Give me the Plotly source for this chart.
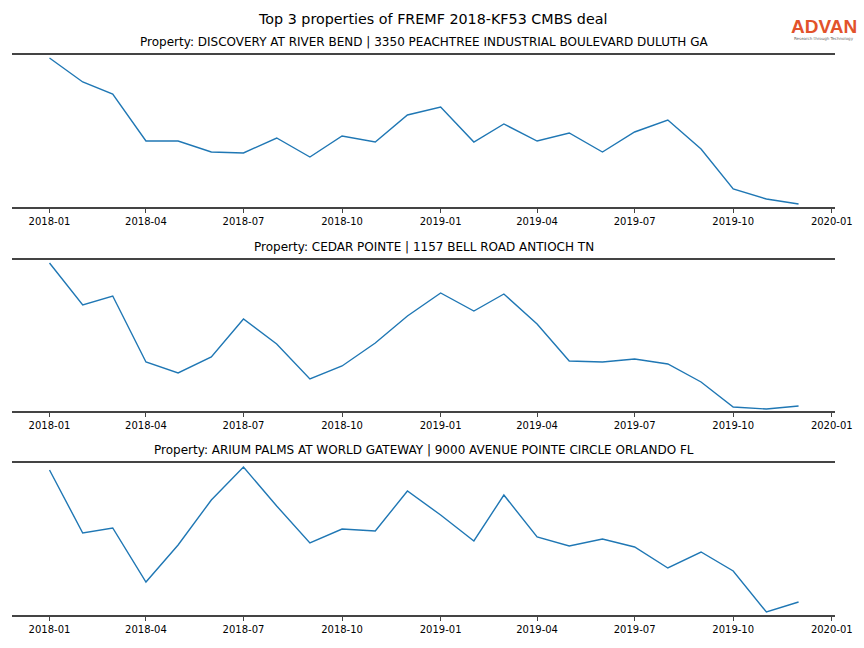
import pandas as pd
import plotly.graph_objects as go

months = pd.date_range("2018-01-01", "2019-12-01", freq="MS")

titles = [
    "Property: DISCOVERY AT RIVER BEND | 3350 PEACHTREE INDUSTRIAL BOULEVARD DULUTH GA",
    "Property: CEDAR POINTE | 1157 BELL ROAD ANTIOCH TN",
    "Property: ARIUM PALMS AT WORLD GATEWAY | 9000 AVENUE POINTE CIRCLE ORLANDO FL",
]

# relative activity index (no y-axis shown)
discovery = [149, 125, 113, 66, 66, 55, 54, 69, 50, 71, 65, 92, 100, 65, 83, 66, 74, 55, 75, 87, 58, 18, 8, 3]
cedar = [148, 106, 115, 49, 38, 54, 92, 67, 32, 45, 68, 95, 118, 100, 117, 87, 50, 49, 52, 47, 29, 4, 2, 5]
arium = [145, 82, 87, 33, 70, 115, 148, 109, 72, 86, 84, 124, 100, 74, 120, 78, 69, 76, 68, 47, 63, 44, 3, 13]

series = [discovery, cedar, arium]
ranges = [[0, 152], [0, 151], [0, 152]]

W, H = 864, 648
ML, MR = 12, 29
panels_px = [(55, 207), (260, 411), (463, 615)]

def fy(px):
    return 1 - px / H

def fx(px):
    return (px - ML) / (W - ML - MR)

fig = go.Figure()
layout = dict(
    width=W, height=H,
    margin=dict(l=ML, r=MR, t=0, b=0),
    paper_bgcolor="white", plot_bgcolor="white",
    showlegend=False,
    font=dict(family="DejaVu Sans", color="black"),
)
annotations = []
for i, (vals, (top, bot)) in enumerate(zip(series, panels_px)):
    n = i + 1
    xa = "x" if n == 1 else f"x{n}"
    ya = "y" if n == 1 else f"y{n}"
    fig.add_trace(go.Scatter(x=months, y=vals, mode="lines",
                             line=dict(color="#1f77b4", width=1.4),
                             xaxis=xa, yaxis=ya))
    xkey = "xaxis" if n == 1 else f"xaxis{n}"
    ykey = "yaxis" if n == 1 else f"yaxis{n}"
    layout[xkey] = dict(
        domain=[0, 1], anchor=ya,
        range=["2017-11-27", "2020-01-04"],
        type="date", tickformat="%Y-%m", dtick="M3", tick0="2018-01-01",
        showgrid=False, zeroline=False,
        showline=True, mirror=True, linecolor="#444444", linewidth=2,
        ticks="outside", ticklen=4, tickcolor="#444444", tickwidth=1,
        tickfont=dict(size=10, family="DejaVu Sans", color="black"),
    )
    layout[ykey] = dict(
        domain=[fy(bot), fy(top)], anchor=xa,
        range=ranges[i], showgrid=False, zeroline=False,
        showticklabels=False, showline=False, ticks="",
    )
    annotations.append(dict(
        text=titles[i], xref="paper", yref="paper",
        x=fx(424), y=fy(top - 4), xanchor="center", yanchor="bottom",
        showarrow=False,
        font=dict(size=12, family="DejaVu Sans", color="black"),
    ))

annotations.append(dict(
    text="Top 3 properties of FREMF 2018-KF53 CMBS deal", xref="paper", yref="paper",
    x=fx(432), y=fy(19), xanchor="center", yanchor="middle",
    showarrow=False, font=dict(size=14.3, family="DejaVu Sans", color="black"),
))
annotations.append(dict(
    text="ADVAN", xref="paper", yref="paper",
    x=fx(824), y=fy(27), xanchor="center", yanchor="middle",
    showarrow=False,
    font=dict(size=19, family="Liberation Sans", color="#e2522b", weight=600),
))
annotations.append(dict(
    text="Research through Technology", xref="paper", yref="paper",
    x=fx(824), y=fy(38), xanchor="center", yanchor="middle",
    showarrow=False, font=dict(size=4, family="DejaVu Sans", color="#666666"),
))
layout["annotations"] = annotations
fig.update_layout(**layout)
fig.write_html("out.html", post_script="document.body.style.margin='0';",
               config={"displayModeBar": False})
